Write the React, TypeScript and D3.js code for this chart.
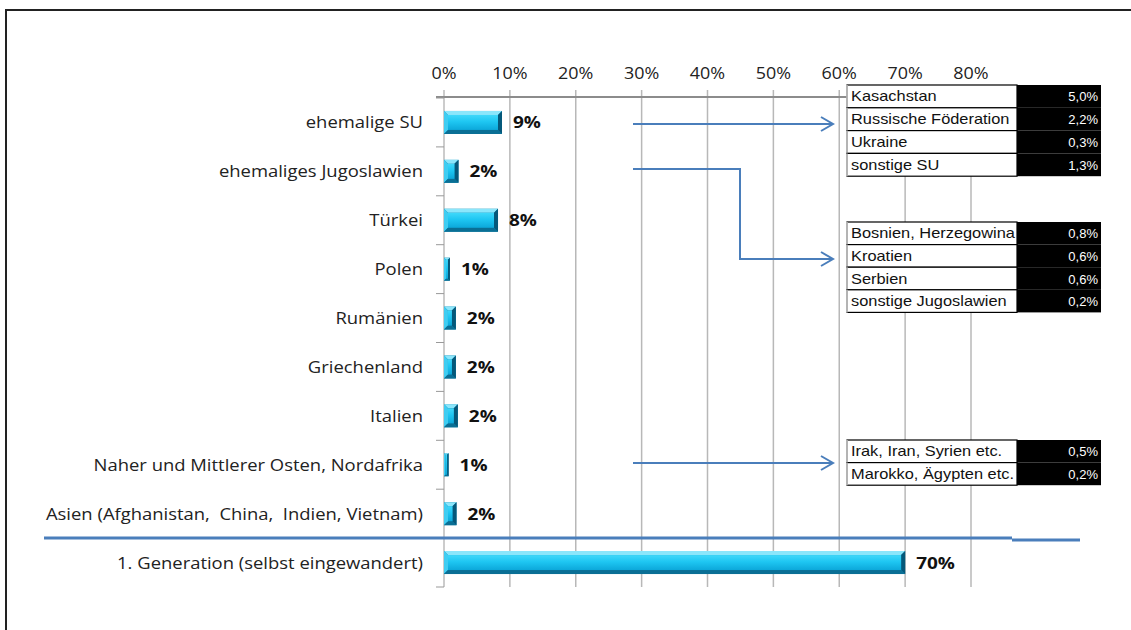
import React from "react";
import * as d3 from "d3";

const categories = [
  "ehemalige SU",
  "ehemaliges Jugoslawien",
  "Türkei",
  "Polen",
  "Rumänien",
  "Griechenland",
  "Italien",
  "Naher und Mittlerer Osten, Nordafrika",
  "Asien (Afghanistan,  China,  Indien, Vietnam)",
  "1. Generation (selbst eingewandert)",
];
const values = [8.8, 2.2, 8.2, 0.9, 1.8, 1.8, 2.1, 0.7, 1.9, 70];
const valueLabels = ["9%", "2%", "8%", "1%", "2%", "2%", "2%", "1%", "2%", "70%"];
const xTicks = [0, 10, 20, 30, 40, 50, 60, 70, 80];

const suNames = ["Kasachstan", "Russische Föderation", "Ukraine", "sonstige SU"];
const suValues = ["5,0%", "2,2%", "0,3%", "1,3%"];
const jugoNames = ["Bosnien, Herzegowina", "Kroatien", "Serbien", "sonstige Jugoslawien"];
const jugoValues = ["0,8%", "0,6%", "0,6%", "0,2%"];
const nahostNames = ["Irak, Iran, Syrien etc.", "Marokko, Ägypten etc."];
const nahostValues = ["0,5%", "0,2%"];

const W = 1131;
const H = 630;
const ARROW = "#4a7ebb";
const FONT = "'Open Sans', 'DejaVu Sans', sans-serif";
const TFONT = "'Liberation Sans', Arial, sans-serif";

function Bar({ x0, x1, y, h }: { x0: number; x1: number; y: number; h: number }) {
  const w = x1 - x0;
  const b = Math.min(4, w / 3);
  return (
    <g>
      <rect x={x0} y={y} width={w} height={h} fill="#0a7ea8" />
      <polygon points={`${x0},${y} ${x1},${y} ${x1 - b},${y + b} ${x0 + b},${y + b}`} fill="#8be6fb" />
      <polygon points={`${x0},${y} ${x0 + b},${y + b} ${x0 + b},${y + h - b} ${x0},${y + h}`} fill="#3fcdf2" />
      <polygon points={`${x1},${y} ${x1 - b},${y + b} ${x1 - b},${y + h - b} ${x1},${y + h}`} fill="#05587a" />
      <polygon points={`${x0},${y + h} ${x1},${y + h} ${x1 - b},${y + h - b} ${x0 + b},${y + h - b}`} fill="#0a6f95" />
      <rect x={x0 + b} y={y + b} width={Math.max(0, w - 2 * b)} height={h - 2 * b} fill="url(#barGrad)" />
    </g>
  );
}

function Table({ names, vals, top, rowH }: { names: string[]; vals: string[]; top: number; rowH: number }) {
  const xl = 847, xm = 1017, xr = 1101;
  return (
    <g>
      {names.map((n, i) => {
        const y = top + i * rowH;
        return (
          <g key={n}>
            <rect x={xl} y={y} width={xm - xl} height={rowH} fill="#fff" stroke="#000" strokeWidth={1.2} />
            <line x1={xl} x2={xl} y1={y} y2={y + rowH} stroke="#cfcfcf" strokeWidth={1.5} />
            <rect x={xm} y={y} width={xr - xm} height={rowH} fill="#000" />
            <text
              transform={`translate(${xl + 4},${y + rowH / 2 + 5}) scale(1.13,1)`}
              fontFamily={TFONT}
              fontSize={14.5}
              fill="#111"
            >
              {n}
            </text>
            <text x={xr - 3} y={y + rowH / 2 + 5} fontFamily={TFONT} fontSize={13} fill="#fff" textAnchor="end">
              {vals[i]}
            </text>
          </g>
        );
      })}
    </g>
  );
}

function Arrow({ pts }: { pts: [number, number][] }) {
  const line = d3.line();
  const [tx, ty] = pts[pts.length - 1];
  return (
    <g stroke={ARROW} strokeWidth={2} fill="none">
      <path d={line(pts) || ""} />
      <path d={`M${tx - 12},${ty - 7} L${tx},${ty} L${tx - 12},${ty + 7}`} />
    </g>
  );
}

export default function App() {
  const x = d3.scaleLinear().domain([0, 80]).range([444, 971]);
  const y = d3.scaleBand<string>().domain(categories).range([98, 587]).paddingInner(0.53).paddingOuter(0.265);
  const step = y.step();
  const bh = y.bandwidth();
  const cy = (c: string) => (y(c) as number) + bh / 2;

  return (
    <svg width={W} height={H} style={{ position: "absolute", left: 0, top: 0, background: "#fff" }}>
      <defs>
        <linearGradient id="barGrad" x1="0" y1="0" x2="0" y2="1">
          <stop offset="0" stopColor="#3fd8fa" />
          <stop offset="0.45" stopColor="#1ec6f2" />
          <stop offset="1" stopColor="#0ca8da" />
        </linearGradient>
      </defs>
      <rect x={0} y={0} width={W} height={H} fill="#fff" />
      {/* frame */}
      <path d={`M6,${H} L6,10 L${W},10`} stroke="#222" strokeWidth={2} fill="none" />

      {/* gridlines */}
      {xTicks.map((t) => (
        <line key={t} x1={x(t)} x2={x(t)} y1={90} y2={587} stroke={t === 0 ? "#999" : "#b8b8b8"} strokeWidth={t === 0 ? 1 : 1.5} />
      ))}
      {/* top axis line */}
      <line x1={436} x2={x(80)} y1={97} y2={97} stroke="#8c8c8c" strokeWidth={2} />
      {/* tick labels */}
      {xTicks.map((t) => (
        <text
          key={t}
          transform={`translate(${x(t)},79) scale(1.12,1)`}
          textAnchor="middle"
          fontFamily={FONT}
          fontSize={16}
          fill="#222"
        >
          {t}%
        </text>
      ))}
      {/* category ticks */}
      {d3.range(categories.length + 1).map((i) => (
        <line key={i} x1={436} x2={444} y1={98 + i * step} y2={98 + i * step} stroke="#999" strokeWidth={1} />
      ))}

      {/* bars */}
      {categories.map((c, i) => (
        <g key={c}>
          <Bar x0={x(0)} x1={x(values[i])} y={y(c) as number} h={bh} />
          <text
            transform={`translate(423,${cy(c) + 6}) scale(1.19,1)`}
            textAnchor="end"
            fontFamily={FONT}
            fontSize={15.5}
            fill="#222"
            style={{ whiteSpace: "pre" }}
          >
            {c}
          </text>
          <text
            transform={`translate(${x(values[i]) + 11},${cy(c) + 6}) scale(1.15,1)`}
            fontFamily={FONT}
            fontSize={16.5}
            fontWeight="bold"
            fill="#111"
          >
            {valueLabels[i]}
          </text>
        </g>
      ))}

      {/* separator */}
      <line x1={44} x2={1012} y1={538} y2={538} stroke={ARROW} strokeWidth={3} />
      <line x1={1012} x2={1080} y1={540} y2={540} stroke={ARROW} strokeWidth={3} />

      {/* arrows */}
      <Arrow pts={[[633, 124], [833, 124]]} />
      <Arrow pts={[[633, 169], [740, 169], [740, 259], [833, 259]]} />
      <Arrow pts={[[633, 463], [833, 463]]} />

      {/* tables */}
      <Table names={suNames} vals={suValues} top={85} rowH={22.8} />
      <Table names={jugoNames} vals={jugoValues} top={222} rowH={22.6} />
      <Table names={nahostNames} vals={nahostValues} top={440} rowH={22.6} />
    </svg>
  );
}
